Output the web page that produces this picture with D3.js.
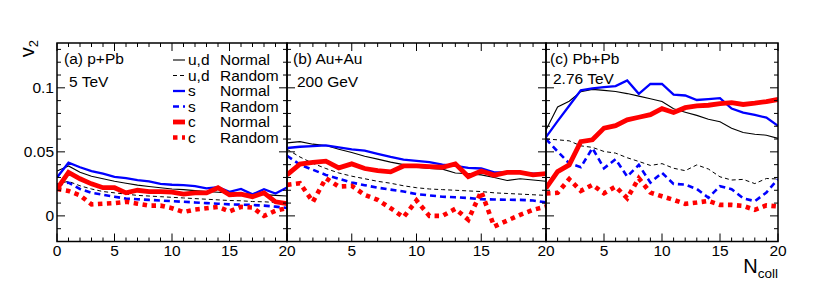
<!DOCTYPE html>
<html>
<head>
<meta charset="utf-8">
<script src="https://cdn.jsdelivr.net/npm/d3@7"></script>
<style>
  body { margin: 0; background: #fff; }
  text { font-family: "Liberation Sans", Arial, Helvetica, sans-serif; fill: #000; }
</style>
</head>
<body>
<div id="wrapper"></div>
<script>
// x values (N_coll)
const nColl = [0, 1, 2, 3, 4, 5, 6, 7, 8, 9, 10, 11, 12, 13, 14, 15, 16, 17, 18, 19, 20];

// (a) p+Pb 5 TeV
const pPbUdNormal = [0.035, 0.039, 0.034, 0.031, 0.029, 0.027, 0.0255, 0.024, 0.023, 0.022, 0.021, 0.0205, 0.0197, 0.019, 0.0185, 0.018, 0.0175, 0.017, 0.0166, 0.016, 0.0155];
const pPbUdRandom = [0.025, 0.027, 0.0235, 0.021, 0.019, 0.018, 0.017, 0.016, 0.0155, 0.015, 0.0145, 0.014, 0.0135, 0.013, 0.0125, 0.012, 0.0118, 0.0112, 0.011, 0.0105, 0.0102];
const pPbSNormal = [0.030, 0.0415, 0.038, 0.035, 0.033, 0.0305, 0.0295, 0.028, 0.027, 0.025, 0.0243, 0.024, 0.0233, 0.0215, 0.0225, 0.0188, 0.021, 0.0168, 0.0208, 0.0175, 0.0222];
const pPbSRandom = [0.024, 0.026, 0.021, 0.018, 0.0165, 0.015, 0.0135, 0.013, 0.0125, 0.012, 0.0115, 0.011, 0.0105, 0.01, 0.0095, 0.009, 0.0088, 0.0085, 0.008, 0.0072, 0.0062];
const pPbCNormal = [0.021, 0.034, 0.029, 0.025, 0.022, 0.022, 0.018, 0.02, 0.019, 0.019, 0.0185, 0.017, 0.018, 0.018, 0.022, 0.0165, 0.017, 0.015, 0.018, 0.011, 0.0095];
const pPbCRandom = [0.021, 0.0195, 0.016, 0.009, 0.0095, 0.01, 0.011, 0.0095, 0.008, 0.008, 0.006, 0.003, 0.005, 0.006, 0.007, 0.0035, 0.007, 0.0065, 0.0, 0.004, 0.006];

// (b) Au+Au 200 GeV
const auAuUdNormal = [0.057, 0.058, 0.056, 0.055, 0.052, 0.0495, 0.0465, 0.0443, 0.042, 0.040, 0.038, 0.037, 0.0365, 0.0335, 0.033, 0.032, 0.030, 0.0276, 0.029, 0.028, 0.027];
const auAuUdRandom = [0.052, 0.046, 0.041, 0.037, 0.0335, 0.031, 0.029, 0.027, 0.0255, 0.0235, 0.022, 0.021, 0.0205, 0.02, 0.0195, 0.019, 0.018, 0.0175, 0.017, 0.0165, 0.016];
const auAuSNormal = [0.053, 0.054, 0.0545, 0.055, 0.0535, 0.052, 0.051, 0.0485, 0.046, 0.044, 0.043, 0.042, 0.040, 0.039, 0.0375, 0.037, 0.034, 0.034, 0.034, 0.033, 0.033];
const auAuSRandom = [0.047, 0.040, 0.036, 0.032, 0.029, 0.026, 0.024, 0.022, 0.0205, 0.019, 0.017, 0.016, 0.015, 0.0145, 0.014, 0.013, 0.0128, 0.0126, 0.0125, 0.012, 0.0105];
const auAuCNormal = [0.032, 0.0404, 0.0417, 0.0427, 0.0375, 0.0406, 0.037, 0.0354, 0.0344, 0.039, 0.039, 0.0385, 0.038, 0.0406, 0.0307, 0.035, 0.0318, 0.034, 0.034, 0.032, 0.033];
const auAuCRandom = [0.0242, 0.0255, 0.011, 0.0294, 0.0229, 0.0234, 0.0164, 0.0125, 0.006, -0.001, 0.012, 0.0, 0.0, 0.0055, -0.003, 0.019, -0.0083, -0.0037, 0.0008, 0.0047, 0.0073];

// (c) Pb+Pb 2.76 TeV
const pbPbUdNormal = [0.067, 0.085, 0.0895, 0.097, 0.0988, 0.098, 0.0971, 0.0955, 0.0935, 0.0915, 0.0893, 0.0836, 0.081, 0.0785, 0.0755, 0.0735, 0.0685, 0.0651, 0.0638, 0.063, 0.0605];
const pbPbUdRandom = [0.060, 0.0594, 0.0586, 0.0547, 0.0535, 0.0503, 0.049, 0.0454, 0.0425, 0.0394, 0.0408, 0.0372, 0.0353, 0.0398, 0.0366, 0.0305, 0.028, 0.0285, 0.0252, 0.0292, 0.0288];
const pbPbSNormal = [0.0615, 0.074, 0.086, 0.098, 0.0995, 0.1005, 0.1013, 0.1057, 0.0953, 0.103, 0.103, 0.0947, 0.094, 0.0905, 0.0912, 0.092, 0.0838, 0.0807, 0.0788, 0.0767, 0.0703];
const pbPbSRandom = [0.060, 0.0503, 0.0411, 0.038, 0.0529, 0.0372, 0.0443, 0.0307, 0.0398, 0.026, 0.0336, 0.025, 0.0244, 0.021, 0.0142, 0.0232, 0.0208, 0.0138, 0.0115, 0.0183, 0.0287];
const pbPbCNormal = [0.0216, 0.0346, 0.0398, 0.058, 0.0594, 0.0685, 0.0705, 0.075, 0.077, 0.079, 0.0837, 0.0807, 0.0845, 0.0859, 0.0864, 0.0877, 0.0885, 0.087, 0.088, 0.0893, 0.0909];
const pbPbCRandom = [0.0175, 0.018, 0.0287, 0.0195, 0.0242, 0.0177, 0.0229, 0.0138, 0.0294, 0.0182, 0.0153, 0.0125, 0.0094, 0.0104, 0.0117, 0.0086, 0.0086, 0.0078, 0.0047, 0.0082, 0.0073];

// axes
const xMajorTicks = [0, 5, 10, 15, 20];
const yMajorTicks = [0, 0.05, 0.1];
const yTickLabels = ['0', '0.05', '0.1'];
const legendFlavours = ['u,d', 'u,d', 's', 's', 'c', 'c'];
const legendModes = ['Normal', 'Random', 'Normal', 'Random', 'Normal', 'Random'];
const panelTitles = ['(a) p+Pb', '(b) Au+Au', '(c) Pb+Pb'];
const panelEnergies = ['5 TeV', '200 GeV', '2.76 TeV'];

function drawChart() {
  const dimensions = { width: 830, height: 295, top: 43, bottom: 241.5 };
  const fontSize = '15.5px';

  const panels = [
    { left: 57, right: 287, series: [pPbUdNormal, pPbUdRandom, pPbSNormal, pPbSRandom, pPbCNormal, pPbCRandom], titleX: 64, energyX: 69, energyY: 87, xLabels: [0, 5, 10, 15, 20] },
    { left: 287, right: 546, series: [auAuUdNormal, auAuUdRandom, auAuSNormal, auAuSRandom, auAuCNormal, auAuCRandom], titleX: 293, energyX: 297, energyY: 86.5, xLabels: [5, 10, 15, 20] },
    { left: 546, right: 778, series: [pbPbUdNormal, pbPbUdRandom, pbPbSNormal, pbPbSRandom, pbPbCNormal, pbPbCRandom], titleX: 550, energyX: 553, energyY: 83.5, xLabels: [5, 10, 15, 20] },
  ];

  const styles = [
    { color: '#000', width: 1.1, dash: null },
    { color: '#000', width: 1, dash: '4,3' },
    { color: '#0000ff', width: 2.3, dash: null },
    { color: '#0000ff', width: 2.6, dash: '6,4' },
    { color: '#ff0000', width: 4.8, dash: null },
    { color: '#ff0000', width: 4.6, dash: '4.5,4.5' },
  ];

  const svg = d3
    .select('#wrapper')
    .append('svg')
    .attr('width', dimensions.width)
    .attr('height', dimensions.height)
    .style('display', 'block');

  svg.append('rect').attr('width', dimensions.width).attr('height', dimensions.height).attr('fill', '#fff');

  const yScale = d3.scaleLinear().domain([-0.02, 0.135]).range([dimensions.bottom, dimensions.top]);
  const yMinorTicks = yScale.ticks(16);
  const defs = svg.append('defs');

  panels.forEach((panel, pi) => {
    const xScale = d3.scaleLinear().domain([0, 20]).range([panel.left, panel.right]);
    const g = svg.append('g');

    const clipId = `clip-${pi}`;
    defs
      .append('clipPath')
      .attr('id', clipId)
      .append('rect')
      .attr('x', panel.left)
      .attr('y', dimensions.top)
      .attr('width', panel.right - panel.left)
      .attr('height', dimensions.bottom - dimensions.top);

    const lineGenerator = d3
      .line()
      .x((d, i) => xScale(nColl[i]))
      .y((d) => yScale(d));

    const curves = g.append('g').attr('clip-path', `url(#${clipId})`);
    panel.series.forEach((values, si) => {
      const s = styles[si];
      curves
        .append('path')
        .attr('d', lineGenerator(values))
        .attr('fill', 'none')
        .attr('stroke', s.color)
        .attr('stroke-width', s.width)
        .attr('stroke-dasharray', s.dash);
    });

    // ticks on all four sides
    const ticks = g.append('g').attr('stroke', '#000').attr('stroke-width', 1);
    xScale.ticks(20).forEach((t) => {
      const len = xMajorTicks.includes(t) ? 8 : 4;
      const x = xScale(t);
      ticks.append('line').attr('x1', x).attr('x2', x).attr('y1', dimensions.bottom).attr('y2', dimensions.bottom - len);
      ticks.append('line').attr('x1', x).attr('x2', x).attr('y1', dimensions.top).attr('y2', dimensions.top + len);
    });
    yMinorTicks.forEach((t) => {
      const len = yMajorTicks.some((m) => Math.abs(m - t) < 1e-9) ? 8 : 4;
      const y = yScale(t);
      ticks.append('line').attr('x1', panel.left).attr('x2', panel.left + len).attr('y1', y).attr('y2', y);
      ticks.append('line').attr('x1', panel.right).attr('x2', panel.right - len).attr('y1', y).attr('y2', y);
    });

    g.append('rect')
      .attr('x', panel.left)
      .attr('y', dimensions.top)
      .attr('width', panel.right - panel.left)
      .attr('height', dimensions.bottom - dimensions.top)
      .attr('fill', 'none')
      .attr('stroke', '#000')
      .attr('stroke-width', 1.5);

    panel.xLabels.forEach((t) => {
      g.append('text')
        .attr('x', xScale(t))
        .attr('y', 255.5)
        .attr('text-anchor', 'middle')
        .style('font-size', fontSize)
        .text(t);
    });

    g.append('text').attr('x', panel.titleX).attr('y', 63.5).style('font-size', fontSize).text(panelTitles[pi]);
    g.append('text').attr('x', panel.energyX).attr('y', panel.energyY).style('font-size', fontSize).text(panelEnergies[pi]);
  });

  // y tick labels
  yMajorTicks.forEach((t, i) => {
    svg
      .append('text')
      .attr('x', 54)
      .attr('y', yScale(t))
      .attr('dy', '0.36em')
      .attr('text-anchor', 'end')
      .style('font-size', fontSize)
      .text(yTickLabels[i]);
  });

  // legend
  const legend = svg.append('g');
  legendModes.forEach((mode, i) => {
    const s = styles[i];
    const baseline = 65 + 15.5 * i;
    legend
      .append('line')
      .attr('x1', 173)
      .attr('x2', 185)
      .attr('y1', baseline - 5)
      .attr('y2', baseline - 5)
      .attr('stroke', s.color)
      .attr('stroke-width', s.width)
      .attr('stroke-dasharray', s.dash);
    legend.append('text').attr('x', 188).attr('y', baseline).style('font-size', fontSize).text(legendFlavours[i]);
    legend.append('text').attr('x', 220).attr('y', baseline).style('font-size', fontSize).text(mode);
  });

  // axis titles
  const yTitle = svg
    .append('text')
    .attr('transform', 'translate(33.5,40) rotate(-90)')
    .attr('text-anchor', 'end');
  yTitle.append('tspan').style('font-size', '20px').text('v');
  yTitle.append('tspan').attr('dy', 4.5).style('font-size', '13px').text('2');

  const xTitle = svg.append('text').attr('x', 778).attr('y', 272.5).attr('text-anchor', 'end');
  xTitle.append('tspan').style('font-size', '20px').text('N');
  xTitle.append('tspan').attr('dy', 5.5).style('font-size', '13.5px').text('coll');
}
drawChart();
</script>
</body>
</html>
